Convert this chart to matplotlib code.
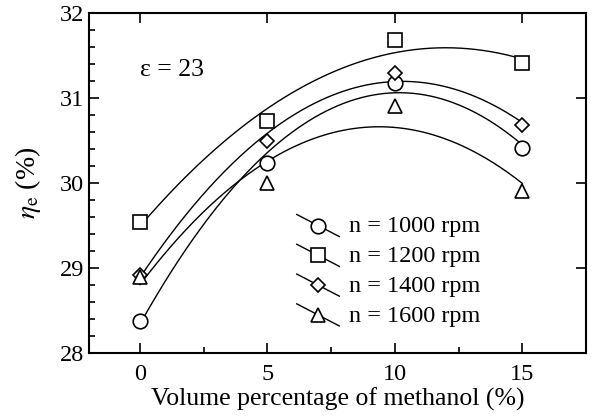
import numpy as np
import matplotlib
matplotlib.use("Agg")
import matplotlib.pyplot as plt
from matplotlib.legend_handler import HandlerLine2D
from matplotlib.lines import Line2D

plt.rcParams["font.family"] = "Liberation Serif"
plt.rcParams["mathtext.fontset"] = "stix"

# methanol volume percentage (%)
methanol = [0, 5, 10, 15]

# effective efficiency eta_e (%) for each speed
eta_1000 = [28.38, 30.24, 31.18, 30.41]
eta_1200 = [29.54, 30.73, 31.68, 31.41]
eta_1400 = [28.92, 30.49, 31.29, 30.68]
eta_1600 = [28.89, 30.00, 30.91, 29.91]

labels = ["n = 1000 rpm", "n = 1200 rpm", "n = 1400 rpm", "n = 1600 rpm"]
series = [eta_1000, eta_1200, eta_1400, eta_1600]
markers = ["o", "s", "D", "^"]
msizes = [10.5, 10.5, 7, 10]


class SlantHandler(HandlerLine2D):
    # legend key: slanted line with the marker in the middle
    def create_artists(self, legend, orig_handle, xdescent, ydescent,
                       width, height, fontsize, trans):
        x0 = -xdescent
        x1 = -xdescent + width
        ytop = -ydescent + height * 1.05
        ybot = -ydescent - height * 0.25
        ln = Line2D([x0, x1], [ytop, ybot], color="black", lw=1.0)
        mk = Line2D([(x0 + x1) / 2], [(ytop + ybot) / 2],
                    marker=orig_handle.get_marker(),
                    markersize=orig_handle.get_markersize(),
                    mfc="white", mec="black", mew=1.2, ls="none")
        ln.set_transform(trans)
        mk.set_transform(trans)
        return [ln, mk]


fig = plt.figure(figsize=(5.92, 4.19), dpi=100)
ax = fig.add_axes([89 / 592, 1 - 353 / 419, 497 / 592, 340 / 419])

xs = np.linspace(methanol[0], methanol[-1], 200)
handles = []
for y, m, ms, lab in zip(series, markers, msizes, labels):
    coef = np.polyfit(methanol, y, 2)
    ax.plot(xs, np.polyval(coef, xs), color="black", lw=1.0)
    h, = ax.plot(methanol, y, ls="none", marker=m, markersize=ms,
                 mfc="white", mec="black", mew=1.2, label=lab, zorder=3)
    handles.append(h)

ax.set_xticks([0, 5, 10, 15])
ax.set_xticks([-2.5, 2.5, 7.5, 12.5, 17.5], minor=True)
ax.set_yticks([28, 29, 30, 31, 32])
ax.set_yticks(np.arange(28, 32.01, 0.2), minor=True)
ax.set_xlim(-2, 17.5)
ax.set_ylim(28, 32)

ax.tick_params(which="both", direction="in", top=True, right=True,
               labelsize=17.5, width=1.2)
ax.tick_params(which="major", length=7)
ax.tick_params(which="minor", length=4.5, top=False, right=False)
ax.tick_params(axis="x", pad=8)
for sp in ax.spines.values():
    sp.set_linewidth(1.5)

ax.set_xlabel("Volume percentage of methanol (%)", fontsize=18.5, labelpad=2)
ax.set_ylabel(r"$\eta_\mathrm{e}$ (%)", fontsize=20, labelpad=12)

ax.text(0, 31.33, "ε = 23", fontsize=18.5, va="center", ha="left")

ax.legend(handles=handles, loc="upper left", bbox_to_anchor=(0.418, 0.405),
          frameon=False, fontsize=17.5, handlelength=1.75, handletextpad=0.4,
          labelspacing=0.32, borderpad=0, borderaxespad=0,
          handler_map={Line2D: SlantHandler()})

fig.savefig("out.png", dpi=100)
